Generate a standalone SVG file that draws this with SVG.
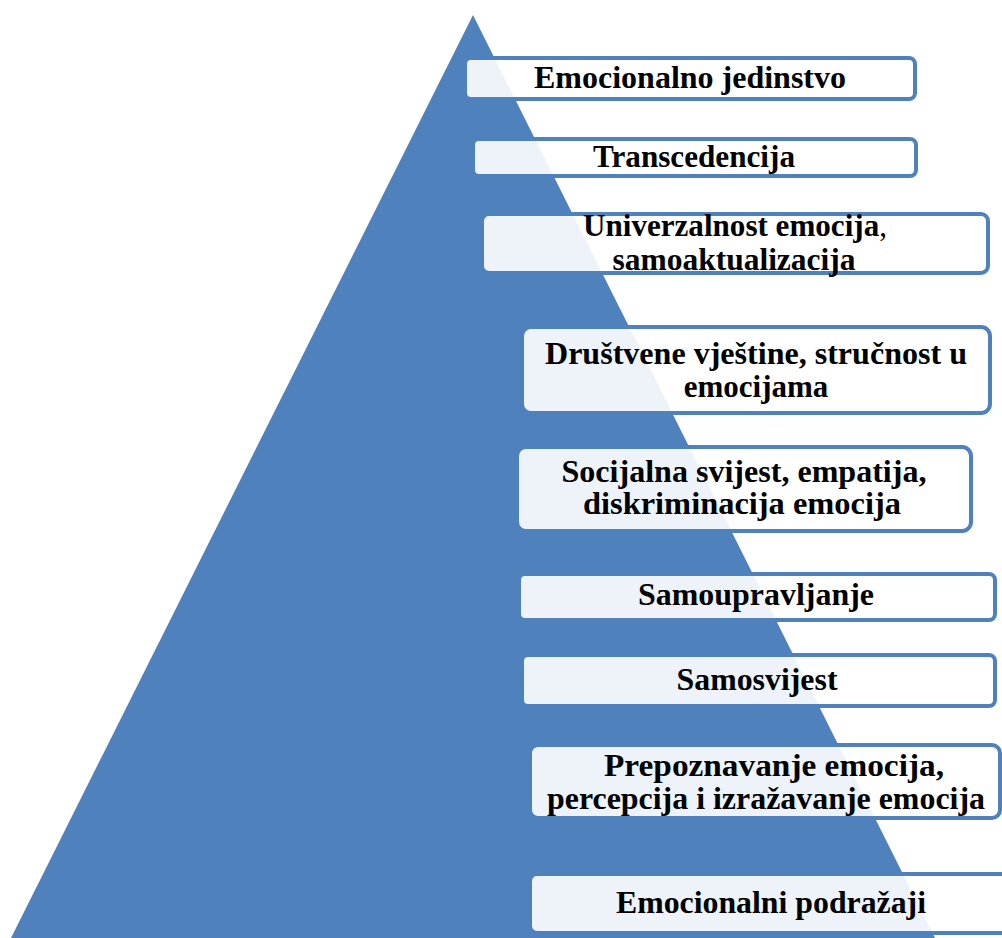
<svg xmlns="http://www.w3.org/2000/svg" width="1002" height="938" viewBox="0 0 1002 938">
<style>
.box{fill:#ffffff;fill-opacity:0.9;stroke:#4F81BD;stroke-width:4}
.t{font-family:"Liberation Serif","Times New Roman",serif;font-weight:bold;font-size:31px;fill:#000;text-anchor:middle}
.c{font-weight:normal}
</style>
<rect width="1002" height="938" fill="#ffffff"/>
<polygon id="pyramid" points="473,15 11,938 935,938" fill="#4F81BD"/>
<g id="connectors"></g>
<g id="n1"><rect class="box" x="465" y="58" width="450" height="41" rx="6"/><text class="t" x="690" y="88" textLength="312" lengthAdjust="spacingAndGlyphs">Emocionalno jedinstvo</text></g>
<g id="n2"><rect class="box" x="473" y="139" width="443" height="37" rx="6"/><text class="t" x="694" y="167" textLength="202" lengthAdjust="spacingAndGlyphs">Transcedencija</text></g>
<g id="n3"><rect class="box" x="482" y="214" width="506" height="59" rx="7"/><text class="t" x="735" y="236" textLength="304" lengthAdjust="spacingAndGlyphs">Univerzalnost emocija<tspan class="c">,</tspan></text><text class="t" x="734" y="270" textLength="243" lengthAdjust="spacingAndGlyphs">samoaktualizacija</text></g>
<g id="n4"><rect class="box" x="522" y="327" width="468" height="86" rx="9"/><text class="t" x="756" y="364" textLength="422" lengthAdjust="spacingAndGlyphs">Društvene vještine, stručnost u</text><text class="t" x="756" y="397">emocijama</text></g>
<g id="n5"><rect class="box" x="517" y="447" width="454" height="84" rx="9"/><text class="t" x="744" y="482" textLength="365" lengthAdjust="spacingAndGlyphs">Socijalna svijest, empatija,</text><text class="t" x="742" y="514" textLength="318" lengthAdjust="spacingAndGlyphs">diskriminacija emocija</text></g>
<g id="n6"><rect class="box" x="519" y="574" width="476" height="46" rx="6"/><text class="t" x="756" y="605" textLength="236" lengthAdjust="spacingAndGlyphs">Samoupravljanje</text></g>
<g id="n7"><rect class="box" x="522" y="655" width="473" height="51" rx="6"/><text class="t" x="757" y="690" textLength="161" lengthAdjust="spacingAndGlyphs">Samosvijest</text></g>
<g id="n8"><rect class="box" x="530" y="745" width="470" height="73" rx="8"/><text class="t" x="774" y="776" textLength="340" lengthAdjust="spacingAndGlyphs">Prepoznavanje emocija,</text><text class="t" x="766" y="809" textLength="438" lengthAdjust="spacingAndGlyphs">percepcija i izražavanje emocija</text></g>
<g id="n9"><rect class="box" x="530" y="874" width="482" height="59" rx="7"/><text class="t" x="771" y="913" textLength="310" lengthAdjust="spacingAndGlyphs">Emocionalni podražaji</text></g>
</svg>
